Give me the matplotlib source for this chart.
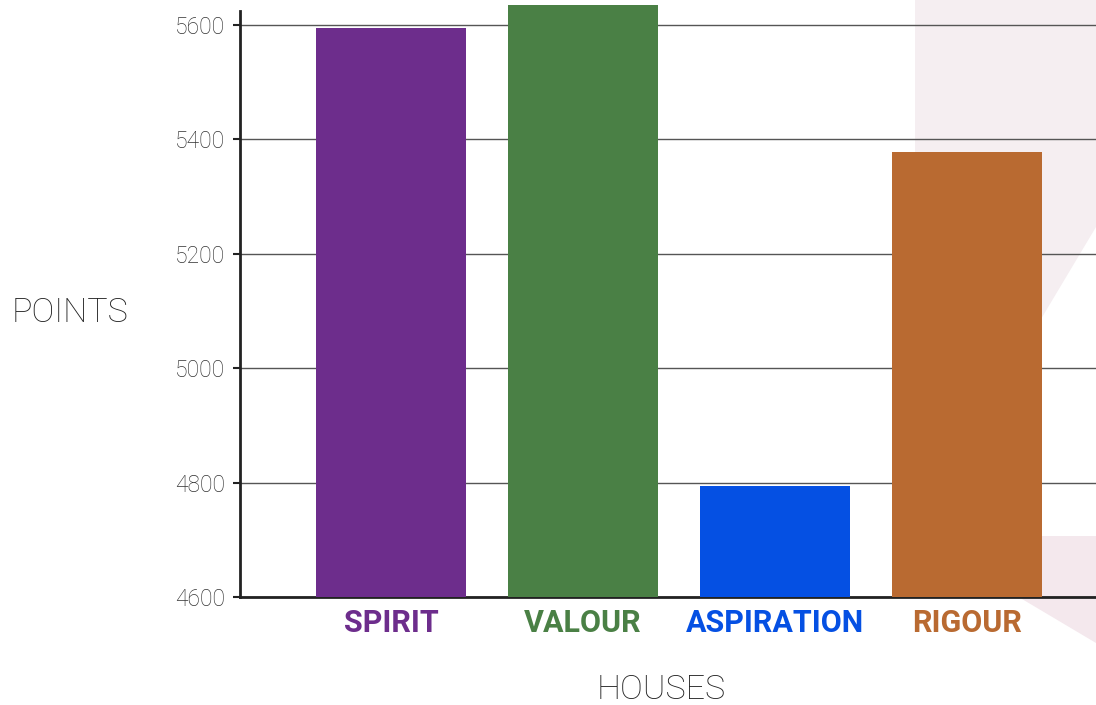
import matplotlib
matplotlib.use("Agg")
import matplotlib.pyplot as plt
from matplotlib.patches import Polygon

# house points
houses = ['SPIRIT', 'VALOUR', 'ASPIRATION', 'RIGOUR']
points = [5595, 5635, 4794, 5378]
colors = ['#6d2d8c', '#4a8045', '#0550e3', '#b96a31']
yticks = [4600, 4800, 5000, 5200, 5400, 5600]

W, H = 1096, 705
LIGHT = dict(family='Roboto', weight='light')


def px(x, y):
    # pixel (from top-left) -> figure fraction
    return (x / W, 1 - y / H)


fig = plt.figure(figsize=(W / 100, H / 100), dpi=100)

# faint background shapes on the right
pink_top = Polygon([px(915, 0), px(1096, 0), px(1096, 227), px(915, 530)],
                   closed=True, transform=fig.transFigure,
                   facecolor='#f5eef1', edgecolor='none', zorder=-1)
pink_low = Polygon([px(916, 536), px(1096, 536), px(1096, 643)],
                   closed=True, transform=fig.transFigure,
                   facecolor='#f4e8ed', edgecolor='none', zorder=-1)
fig.patches.extend([pink_top, pink_low])

# 0.572 px per point, axis bottom (4600) at y=597
ax = fig.add_axes([240 / W, (H - 597) / H, 1 - 240 / W, 595 / H])
ax.set_facecolor('none')

x = range(len(houses))
ax.bar(x, points, width=0.78, color=colors, zorder=3)

ax.set_xlim(-0.786, 3.672)
ax.set_ylim(4600, 5640)
ax.set_yticks(yticks)
ax.yaxis.grid(True, color='#555555', linewidth=1, zorder=1)
ax.set_axisbelow(True)

for s in ['top', 'right']:
    ax.spines[s].set_visible(False)
for s in ['left', 'bottom']:
    ax.spines[s].set_color('#222222')
    ax.spines[s].set_linewidth(2)
ax.spines['left'].set_bounds(4600, 5624)

ax.tick_params(axis='y', length=5, width=1.5, color='#222222', pad=6,
               labelsize=16.5, labelcolor='#333333')
for lab in ax.get_yticklabels():
    lab.set_fontfamily(LIGHT['family'])
    lab.set_fontweight(LIGHT['weight'])

ax.set_xticks(list(x))
ax.set_xticklabels(houses)
ax.tick_params(axis='x', length=0, pad=8)
for lab, c in zip(ax.get_xticklabels(), colors):
    lab.set_color(c)
    lab.set_fontfamily('Roboto')
    lab.set_fontweight('bold')
    lab.set_fontsize(22)

fig.text(70 / W, 1 - 313 / H, 'POINTS', ha='center', va='center',
         fontsize=24.5, color='#222222', **LIGHT)
fig.text(661 / W, 1 - 690 / H, 'HOUSES', ha='center', va='center',
         fontsize=24.5, color='#222222', **LIGHT)

fig.savefig('out.png', dpi=100, facecolor='white')
